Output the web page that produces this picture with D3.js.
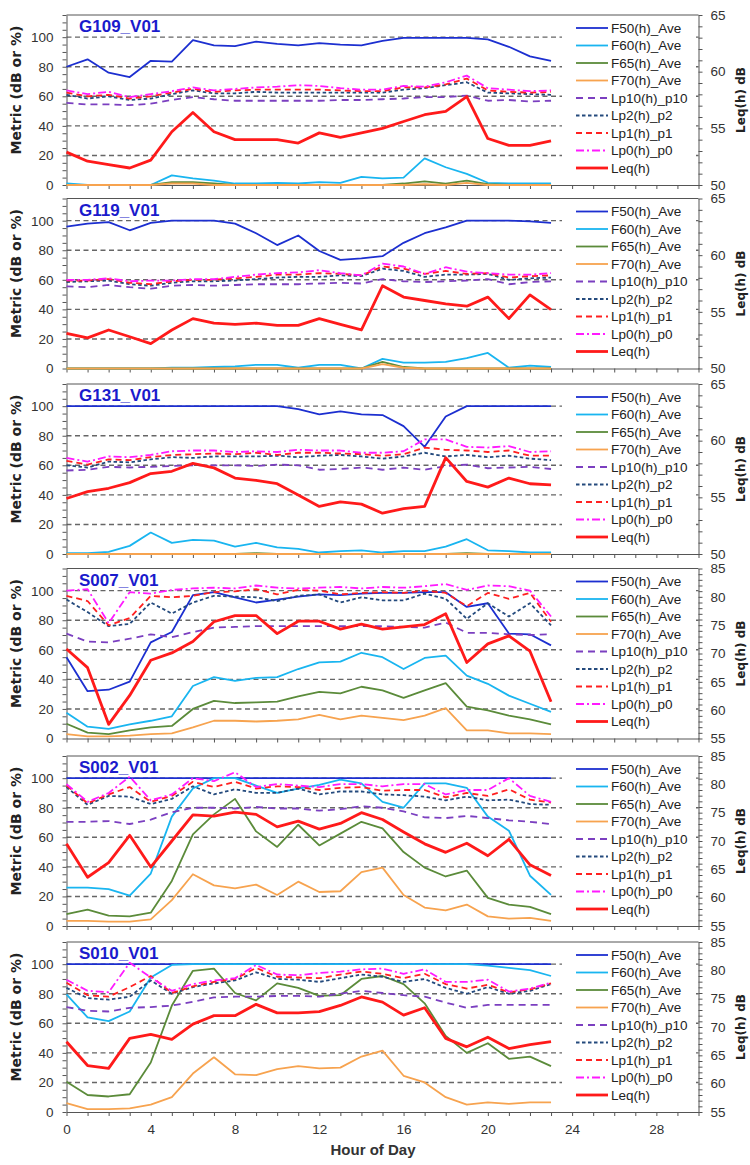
<!DOCTYPE html>
<html>
<head>
<meta charset="utf-8">
<script src="https://cdn.jsdelivr.net/npm/d3@7"></script>
<style>
    body { margin: 0; background: #fff; }
    #chart { width: 750px; height: 1165px; }
    .axis text { font-family: "Liberation Sans", Arial, sans-serif; font-size: 13.5px; fill: #333; }
    .axis path, .axis line { stroke: #555; }
    .legend text { font-family: "Liberation Sans", Arial, sans-serif; font-size: 13.5px; fill: #222; }
</style>
</head>
<body>
<div id="chart"></div>
<script>

// Hours of the day (x values)
const hours = d3.range(0, 24);

// Series names, shown in the legend
const seriesNames = ["F50(h)_Ave", "F60(h)_Ave", "F65(h)_Ave", "F70(h)_Ave", "Lp10(h)_p10", "Lp2(h)_p2", "Lp1(h)_p1", "Lp0(h)_p0", "Leq(h)"];

// ---- G109_V01 ----
const g109_f50 = [80, 85, 76, 73, 84, 83.5, 98, 94.5, 94, 97, 95.5, 94.5, 96, 95, 94.5, 97.5, 99.5, 99.5, 99.5, 99.5, 98.5, 93.5, 87, 84];
const g109_f60 = [1, 0, 0, 0, 0, 6.5, 4.5, 3, 1, 1, 1.5, 1, 2, 1.5, 5.5, 4.5, 5, 18, 12, 7.5, 1.5, 1, 1, 1];
const g109_f65 = [0, 0, 0, 0, 0, 2, 2, 1, 0, 0, 0, 0, 0, 0, 0, 0, 1, 2.5, 1, 3, 0.5, 0, 0, 0];
const g109_f70 = [0, 0, 0, 0, 0, 1, 1, 0, 0, 0, 0, 0, 0, 0, 0, 0, 0, 0.5, 0, 1.5, 0, 0, 0, 0];
const g109_lp10 = [55.5, 54.5, 54.5, 54, 55, 57.5, 59.5, 58, 57, 57, 57, 57, 57, 57.5, 57.5, 58, 58.5, 59.5, 59.5, 60.5, 57, 57.5, 56.5, 57];
const g109_lp2 = [61, 58.5, 60, 57.5, 58.5, 61.5, 64, 62, 62, 63, 62.5, 62.5, 62.5, 62.5, 62.5, 62.5, 64.5, 65.5, 67.5, 69.5, 62.5, 62, 61.5, 61];
const g109_lp1 = [62.5, 60, 61, 58.5, 60, 62.5, 65, 63, 64, 64.5, 64.5, 64.5, 64.5, 64, 63.5, 63.5, 66, 66, 68, 72, 64, 63, 62.5, 63];
const g109_lp0 = [64, 61.5, 63, 59.5, 61.5, 63.5, 66, 64, 65, 66, 66.5, 67.5, 67, 65.5, 64.5, 64.5, 67, 66.5, 69.5, 74, 65.5, 64.5, 63.5, 64];
const g109_leq = [52.9, 52.1, 51.8, 51.5, 52.2, 54.7, 56.4, 54.7, 54.0, 54.0, 54.0, 53.7, 54.6, 54.2, 54.6, 55.0, 55.6, 56.2, 56.5, 57.8, 54.1, 53.5, 53.5, 53.9];

// ---- G119_V01 ----
const g119_f50 = [96, 98, 99, 93.5, 98.5, 100, 100, 100, 98, 91.5, 83.5, 90, 79.5, 73.5, 74.5, 76, 85, 91.5, 95.5, 100, 100, 100, 99.5, 98.5];
const g119_f60 = [0, 0, 0, 0, 0, 0.5, 0.5, 1, 1.5, 2.5, 2.5, 0.5, 2.5, 2.5, 0, 6.5, 4, 4, 4.5, 7, 10.5, 0.5, 2, 1];
const g119_f65 = [0, 0, 0, 0, 0, 0, 0, 0, 0, 0, 0, 0, 0, 0, 0, 4.5, 1, 0, 0, 0, 0, 0, 0, 0];
const g119_f70 = [0, 0, 0, 0, 0, 0, 0, 0, 0, 0, 0, 0, 0, 0, 0, 3, 0.5, 0, 0, 0, 0, 0, 0, 0];
const g119_lp10 = [55.5, 55, 56.5, 55, 54, 56, 56.5, 56, 56.5, 57, 57, 57, 57.5, 58, 57.5, 60.5, 59, 58.5, 59, 59.5, 60.5, 57, 58.5, 59];
const g119_lp2 = [58.5, 59, 59.5, 57, 56, 58, 59, 59, 59.5, 60.5, 61.5, 62, 62, 63, 62.5, 67.5, 66, 62, 63.5, 63.5, 64, 60, 61, 61.5];
const g119_lp1 = [59.5, 59.5, 60.5, 58, 57, 59, 60, 60, 61, 62, 63.5, 63.5, 64.5, 64, 63, 69, 67.5, 64, 66, 64, 64.5, 61.5, 62.5, 63];
const g119_lp0 = [60, 60, 61, 59, 59.5, 59.5, 60.5, 60.5, 62, 63.5, 64.5, 65, 66.5, 64.5, 63, 71, 69, 64, 68.5, 65.5, 64.5, 63.5, 63.5, 64.5];
const g119_leq = [53.1, 52.7, 53.4, 52.8, 52.2, 53.4, 54.4, 54.0, 53.9, 54.0, 53.8, 53.8, 54.4, 53.9, 53.4, 57.3, 56.3, 56.0, 55.7, 55.5, 56.3, 54.4, 56.5, 55.2];

// ---- G131_V01 ----
const g131_f50 = [100, 100, 100, 100, 100, 100, 100, 100, 100, 100, 100, 98, 94.5, 96.5, 94.5, 94, 86.5, 72.5, 93, 100, 100, 100, 100, 100];
const g131_f60 = [0.5, 0.5, 1.5, 5.5, 14.5, 7.5, 9.5, 9, 5, 7.5, 4.5, 3.5, 1, 2, 2.5, 1, 2, 2, 5, 10, 2.5, 2, 1, 1];
const g131_f65 = [0, 0, 0, 0, 0, 0, 0, 0, 0, 0.5, 0, 0, 0, 0, 0, 0, 0, 0, 0, 0.5, 0, 0, 0, 0];
const g131_f70 = [0, 0, 0, 0, 0, 0, 0, 0, 0, 0, 0, 0, 0, 0, 0, 0, 0, 0, 0, 0, 0, 0, 0, 0];
const g131_lp10 = [56.5, 57, 59, 58.5, 59, 59.5, 60, 60, 60, 59.5, 60.5, 60, 57, 57.5, 58.5, 57, 58.5, 57, 59.5, 60.5, 58, 58.5, 59, 57.5];
const g131_lp2 = [60, 58.5, 62.5, 62, 64, 65.5, 65, 66, 66, 66, 66.5, 65.5, 66.5, 67, 66, 64.5, 66, 68.5, 66, 67, 65.5, 66.5, 64.5, 63.5];
const g131_lp1 = [63, 60.5, 64, 63.5, 65.5, 67, 67.5, 68, 67.5, 68.5, 67, 68.5, 68.5, 68, 67.5, 66.5, 67.5, 72, 70.5, 70, 69, 70, 66.5, 66.5];
const g131_lp0 = [65, 62.5, 66, 65.5, 67, 69.5, 70, 70, 69, 69.5, 69, 70.5, 70, 70, 68.5, 68.5, 69.5, 77.5, 77.5, 72.5, 72, 73, 69, 69.5];
const g131_leq = [54.9, 55.5, 55.8, 56.3, 57.1, 57.3, 58.0, 57.6, 56.7, 56.5, 56.2, 55.2, 54.2, 54.6, 54.4, 53.6, 54.0, 54.2, 58.5, 56.4, 55.9, 56.7, 56.2, 56.1];

// ---- S007_V01 ----
const s007_f50 = [55, 32, 33, 38.5, 65, 72, 97, 99, 95.5, 92, 94, 96, 97.5, 97, 98, 98.5, 98.5, 99, 99, 89, 91.5, 71, 70.5, 63];
const s007_f60 = [17.5, 8, 6.5, 9.5, 12, 15, 35.5, 41.5, 39, 41, 41.5, 47, 51.5, 52, 58, 55, 47, 54.5, 56, 42.5, 37, 29, 23.5, 18];
const s007_f65 = [10, 4, 3, 5.5, 7.5, 8.5, 20, 25.5, 24, 24.5, 25, 28.5, 31.5, 30.5, 35, 32.5, 27.5, 32.5, 37.5, 21.5, 19, 15.5, 13, 9.5];
const s007_f70 = [3, 1.5, 1.5, 2, 3, 3.5, 7.5, 12, 12, 11.5, 12, 13, 16, 13, 15.5, 14, 12.5, 15.5, 20.5, 5.5, 5.5, 3.5, 3.5, 3];
const s007_lp10 = [71, 65.5, 65, 67.5, 70.5, 68.5, 72, 75, 75.5, 76, 76, 76, 76, 76, 76, 76, 75.5, 75, 78.5, 71.5, 71.5, 70.5, 70, 70.5];
const s007_lp2 = [94, 85.5, 76, 77.5, 92, 84.5, 92, 96.5, 96, 95.5, 93, 96.5, 97.5, 92, 95.5, 93.5, 93.5, 98, 94.5, 81, 91.5, 82.5, 91.5, 76.5];
const s007_lp1 = [96.5, 93, 76.5, 81.5, 96.5, 95.5, 96.5, 99, 99.5, 101, 97.5, 100.5, 100, 97.5, 98.5, 99, 98.5, 100, 98.5, 89.5, 98.5, 94.5, 98.5, 79];
const s007_lp0 = [100, 101, 78, 99, 98, 100.5, 101.5, 102, 101.5, 103.5, 102, 101.5, 102, 102.5, 101.5, 102.5, 102, 103, 104.5, 100.5, 103.5, 103, 100, 82.5];
const s007_leq = [70.8, 67.5, 57.5, 62.6, 68.8, 70.1, 72.1, 75.6, 76.7, 76.7, 73.5, 75.7, 75.7, 74.3, 75.2, 74.3, 74.7, 75.1, 77.0, 68.4, 71.7, 73.1, 70.4, 61.5];

// ---- S002_V01 ----
const s002_f50 = [100, 100, 100, 100, 100, 100, 100, 100, 100, 100, 100, 100, 100, 100, 100, 100, 100, 100, 100, 100, 100, 100, 100, 100];
const s002_f60 = [26, 26, 25, 20.5, 35.5, 74, 93, 100, 100, 95, 90, 93, 95.5, 99, 96.5, 84, 80, 96.5, 96.5, 93.5, 74, 64.5, 34, 21];
const s002_f65 = [8, 11, 7, 6.5, 9, 30.5, 62, 75.5, 86, 64, 53.5, 68.5, 54.5, 62.5, 70.5, 66, 50, 39.5, 33.5, 37.5, 19, 14.5, 13, 8];
const s002_f70 = [3.5, 3.5, 3, 3, 4.5, 17.5, 35, 27.5, 25.5, 28, 21, 30, 23, 23.5, 36.5, 39.5, 21, 12.5, 10.5, 14.5, 6.5, 5, 5.5, 3.5];
const s002_lp10 = [70.5, 70.5, 71, 69, 72, 77, 80, 80, 79.5, 80.5, 79.5, 79.5, 78, 79, 81, 80, 77.5, 73.5, 73, 74.5, 73, 71.5, 70.5, 69];
const s002_lp2 = [94, 82, 88, 87.5, 82.5, 86, 94.5, 89, 92.5, 90, 90, 93, 89, 91, 91, 89, 88.5, 87.5, 85, 87.5, 85, 85.5, 82.5, 82];
const s002_lp1 = [95, 83, 89, 94, 84, 88, 97.5, 94, 97.5, 93, 94.5, 94, 92, 93.5, 94, 91.5, 92, 92, 87, 90, 88, 92.5, 85.5, 83.5];
const s002_lp0 = [96, 84, 90, 101, 85, 89, 100, 98, 104, 94, 96, 95, 94, 96, 96, 94.5, 96, 96, 89, 92, 92, 100, 88, 84];
const s002_leq = [69.5, 63.6, 66.2, 71.0, 65.4, 70.0, 74.6, 74.4, 75.1, 74.7, 72.5, 73.5, 72.1, 73.1, 75.0, 73.8, 71.6, 69.5, 68.0, 69.6, 67.4, 70.3, 65.8, 63.9];

// ---- S010_V01 ----
const s010_f50 = [100, 100, 100, 100, 100, 100, 100, 100, 100, 100, 100, 100, 100, 100, 100, 100, 100, 100, 100, 100, 100, 100, 100, 100];
const s010_f60 = [79.5, 64, 61.5, 68, 91, 99.5, 100, 100, 100, 100, 100, 100, 100, 100, 100, 100, 100, 100, 100, 100, 99, 97.5, 96, 92];
const s010_f65 = [20.5, 11.5, 10.5, 12, 33.5, 72, 95.5, 97, 80.5, 75.5, 87, 84, 78.5, 79, 90, 92, 86.5, 73.5, 51.5, 40, 46.5, 36, 37.5, 31];
const s010_f70 = [6, 2, 2, 2.5, 5, 10, 26, 37, 25.5, 25, 29, 31, 29.5, 30, 37.5, 41.5, 24.5, 20, 10, 5, 6.5, 5.5, 6.5, 6.5];
const s010_lp10 = [71, 68.5, 68, 70.5, 71, 72, 74.5, 77.5, 78, 78, 78.5, 78.5, 78, 80, 82, 80.5, 79, 78, 74, 70.5, 72.5, 72.5, 72.5, 72.5];
const s010_lp2 = [84, 77, 76, 78, 89, 80, 84.5, 87, 89, 94.5, 90, 89.5, 88, 90.5, 93, 91.5, 88, 90, 84, 80, 84.5, 80, 82, 86.5];
const s010_lp1 = [87.5, 79, 78, 84.5, 92, 80.5, 85, 88, 90, 97.5, 91.5, 91, 90.5, 93, 95, 93.5, 90.5, 93.5, 86.5, 83.5, 86, 81, 83, 87];
const s010_lp0 = [89.5, 82, 81, 101, 91, 82, 86.5, 89, 90.5, 99.5, 93, 92.5, 94, 95, 96.5, 97, 93.5, 96.5, 88, 88, 89.5, 81.5, 83.5, 87.5];
const s010_leq = [67.4, 63.2, 62.7, 68.0, 68.7, 67.8, 70.5, 72.0, 72.0, 74.0, 72.5, 72.5, 72.7, 73.8, 75.3, 74.4, 72.1, 73.4, 68.0, 66.5, 68.2, 66.2, 66.9, 67.4];

// Line styles for each series (same order as seriesNames)
const seriesStyles = [
    { color: "#1c2fd0", width: 1.8, dash: null },
    { color: "#19b5f0", width: 1.8, dash: null },
    { color: "#5b8b3a", width: 1.8, dash: null },
    { color: "#f7a34f", width: 1.8, dash: null },
    { color: "#7b3fc0", width: 1.8, dash: "7,5" },
    { color: "#244a7d", width: 1.8, dash: "3.5,2.5" },
    { color: "#ff2020", width: 1.8, dash: "6,4" },
    { color: "#ff1aff", width: 1.8, dash: "8,3,2,3" },
    { color: "#ff1a1a", width: 2.8, dash: null }
];

// Table of panels built from the arrays above
const panels = [
    { name: "G109_V01", right: [50, 65], series: [g109_f50, g109_f60, g109_f65, g109_f70, g109_lp10, g109_lp2, g109_lp1, g109_lp0, g109_leq] },
    { name: "G119_V01", right: [50, 65], series: [g119_f50, g119_f60, g119_f65, g119_f70, g119_lp10, g119_lp2, g119_lp1, g119_lp0, g119_leq] },
    { name: "G131_V01", right: [50, 65], series: [g131_f50, g131_f60, g131_f65, g131_f70, g131_lp10, g131_lp2, g131_lp1, g131_lp0, g131_leq] },
    { name: "S007_V01", right: [55, 85], series: [s007_f50, s007_f60, s007_f65, s007_f70, s007_lp10, s007_lp2, s007_lp1, s007_lp0, s007_leq] },
    { name: "S002_V01", right: [55, 85], series: [s002_f50, s002_f60, s002_f65, s002_f70, s002_lp10, s002_lp2, s002_lp1, s002_lp0, s002_leq] },
    { name: "S010_V01", right: [55, 85], series: [s010_f50, s010_f60, s010_f65, s010_f70, s010_lp10, s010_lp2, s010_lp1, s010_lp0, s010_leq] }
];

// Page layout
const panelTops = [15, 198.5, 384, 568.5, 756, 942];
const panelHeight = 170;
const plotLeft = 66.5, plotRight = 698.5;

class NoisePanel {

    constructor(svg, panel, top, isLast) {
        this.svg = svg;
        this.panel = panel;
        this.top = top;
        this.isLast = isLast;
        this.initVis();
    }

    initVis() {
        let vis = this;

        vis.g = vis.svg.append("g")
            .attr("transform", "translate(0," + vis.top + ")");

        // Scales: left metric axis, right Leq axis
        vis.x = d3.scaleLinear().domain([0, 30]).range([plotLeft, plotRight]);
        vis.y = d3.scaleLinear().domain([0, 115]).range([panelHeight, 0]);
        vis.y2 = d3.scaleLinear().domain(vis.panel.right).range([panelHeight, 0]);

        // Dashed gridlines
        vis.g.selectAll(".grid")
            .data([20, 40, 60, 80, 100])
            .enter().append("line")
            .attr("class", "grid")
            .attr("x1", plotLeft)
            .attr("x2", plotRight)
            .attr("y1", d => vis.y(d))
            .attr("y2", d => vis.y(d))
            .attr("stroke", "#666")
            .attr("stroke-width", 1.4)
            .attr("stroke-dasharray", "5,3.5");

        // Axes
        vis.g.append("g")
            .attr("class", "axis")
            .attr("transform", "translate(" + plotLeft + ",0)")
            .call(d3.axisLeft(vis.y)
                .tickValues(d3.range(0, 116, 5))
                .tickFormat(d => (d % 20 === 0 && d <= 100) ? d : "")
                .tickSize(4).tickSizeOuter(0).tickPadding(9));

        let lo = vis.panel.right[0], hi = vis.panel.right[1];
        vis.g.append("g")
            .attr("class", "axis")
            .attr("transform", "translate(" + plotRight + ",0)")
            .call(d3.axisRight(vis.y2)
                .tickValues(d3.range(lo, hi + 1, 1))
                .tickFormat(d => d % 5 === 0 ? d : "")
                .tickSize(4).tickSizeOuter(0).tickPadding(8));

        vis.g.append("g")
            .attr("class", "axis")
            .attr("transform", "translate(0," + panelHeight + ")")
            .call(d3.axisBottom(vis.x)
                .tickValues(d3.range(0, 31, 1))
                .tickFormat(d => (vis.isLast && d % 4 === 0) ? d : "")
                .tickSize(4).tickSizeOuter(0).tickPadding(8));

        // Top border
        vis.g.append("line")
            .attr("x1", plotLeft).attr("x2", plotRight)
            .attr("y1", 0).attr("y2", 0)
            .attr("stroke", "#555");

        // Series lines (Leq on the right axis)
        vis.panel.series.forEach((values, i) => {
            let yScale = i === 8 ? vis.y2 : vis.y;
            let line = d3.line()
                .x((d, j) => vis.x(hours[j]))
                .y(d => yScale(d));
            let style = seriesStyles[i];
            vis.g.append("path")
                .datum(values)
                .attr("fill", "none")
                .attr("stroke", style.color)
                .attr("stroke-width", style.width)
                .attr("stroke-dasharray", style.dash)
                .attr("stroke-linejoin", "round")
                .attr("d", line);
        });

        // Legend
        let legend = vis.g.append("g").attr("class", "legend");
        legend.append("rect")
            .attr("x", 562).attr("y", 3)
            .attr("width", 134).attr("height", 162)
            .attr("fill", "#fff");
        seriesNames.forEach((name, i) => {
            let ly = 13 + i * 17.5;
            let style = seriesStyles[i];
            legend.append("line")
                .attr("x1", 576).attr("x2", 608)
                .attr("y1", ly).attr("y2", ly)
                .attr("stroke", style.color)
                .attr("stroke-width", style.width)
                .attr("stroke-dasharray", style.dash);
            legend.append("text")
                .attr("x", 611).attr("y", ly + 4.5)
                .text(name);
        });

        // Panel title
        vis.g.append("text")
            .attr("x", 79).attr("y", 17)
            .style("font-family", "Liberation Sans, Arial, sans-serif")
            .style("font-size", "17px")
            .style("font-weight", "bold")
            .style("fill", "#1a1acc")
            .text(vis.panel.name);

        // Axis titles
        vis.g.append("text")
            .attr("transform", "translate(16," + (panelHeight / 2 - 10) + ") rotate(-90)")
            .attr("text-anchor", "middle")
            .attr("dominant-baseline", "central")
            .style("font-family", "DejaVu Sans, sans-serif")
            .style("font-size", "14px")
            .style("font-weight", "bold")
            .style("fill", "#222")
            .text("Metric (dB or %)");

        vis.g.append("text")
            .attr("transform", "translate(741," + (panelHeight / 2) + ") rotate(-90)")
            .attr("text-anchor", "middle")
            .attr("dominant-baseline", "central")
            .style("font-family", "DejaVu Sans, sans-serif")
            .style("font-size", "12px")
            .style("font-weight", "bold")
            .style("fill", "#222")
            .text("Leq(h) dB");
    }
}

let svg = d3.select("#chart").append("svg")
    .attr("width", 750)
    .attr("height", 1165);

panels.forEach((p, i) => new NoisePanel(svg, p, panelTops[i], i === panels.length - 1));

// X axis title
svg.append("text")
    .attr("x", 373).attr("y", 1155)
    .attr("text-anchor", "middle")
    .style("font-family", "Liberation Sans, Arial, sans-serif")
    .style("font-size", "15px")
    .style("font-weight", "bold")
    .style("fill", "#333")
    .text("Hour of Day");

</script>
</body>
</html>
